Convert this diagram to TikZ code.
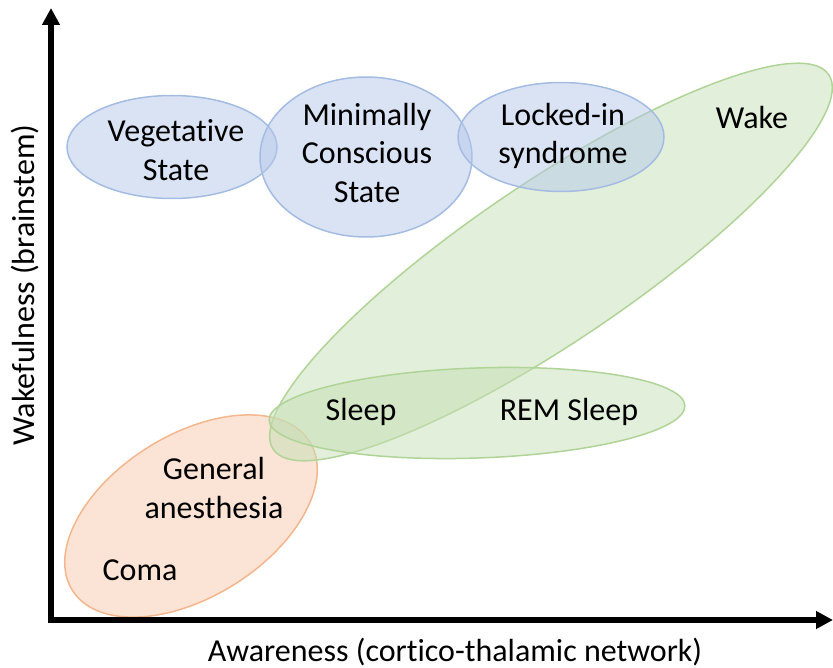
\documentclass[tikz,border=0pt]{standalone}
\usepackage{fontspec}
\setmainfont{Carlito}[Ligatures=NoCommon]
\usetikzlibrary{positioning,arrows.meta,shapes.geometric}
\definecolor{zoneblue}{RGB}{180,199,233}
\definecolor{zoneblueline}{RGB}{165,188,226}
\definecolor{zonegreen}{RGB}{197,223,181}
\definecolor{zonegreenline}{RGB}{176,212,152}
\definecolor{zoneorange}{RGB}{247,201,171}
\definecolor{zoneorangeline}{RGB}{244,182,140}

\begin{document}
\begin{tikzpicture}[
    x=1pt, y=-1pt,
    region/.style={ellipse, inner sep=0pt, line width=1.5pt, fill opacity=0.5},
    bluezone/.style={region, draw=zoneblueline, fill=zoneblue},
    greenzone/.style={region, draw=zonegreenline, fill=zonegreen},
    orangezone/.style={region, draw=zoneorangeline, fill=zoneorange},
    statetext/.style={align=center, inner sep=0pt, font=\fontsize{32}{38.5}\selectfont},
    axis/.style={line width=5.5pt, {Triangle[length=17pt,width=17pt]}-{Triangle[length=17pt,width=17pt]}}
]
\useasboundingbox (0,0) rectangle (833,668);

\node[orangezone, minimum width=280pt, minimum height=162pt, rotate=32] (anesth) at (191,516) {};
\node[greenzone, minimum width=670pt, minimum height=160pt, rotate=34] (wakezone) at (551,262) {};
\node[greenzone, minimum width=416pt, minimum height=90pt, rotate=2] (sleepzone) at (477,413) {};
\node[bluezone, minimum width=210pt, minimum height=103pt] (veg) at (172,147) {};
\node[bluezone, minimum width=212pt, minimum height=160pt] (mcs) at (366,157) {};
\node[bluezone, minimum width=206pt, minimum height=109pt] (lis) at (561,137) {};

\node[statetext] (vegtext) at (176,150) {Vegetative\\State};
\node[statetext] (mcstext) at (367,153) {Minimally\\Conscious\\State};
\node[statetext] (listext) at (563,136) {Locked-in\\syndrome};
\node[statetext] (wake) at (752,118) {Wake};
\node[statetext] (sleep) at (361,412) {Sleep};
\node[statetext] (rem) at (569,412) {REM Sleep};
\node[statetext] (general) at (214,488) {General\\anesthesia};
\node[statetext] (coma) at (140,570) {Coma};

\coordinate (origin) at (51,620);
\coordinate (ytop) at (51,8);
\coordinate (xend) at (833,620);
\draw[axis] (ytop) -- (origin) -- (xend);

\node[statetext] (xlabel) at (455,652) {Awareness (cortico-thalamic network)};
\node[statetext, rotate=90] (ylabel) at (25,285) {Wakefulness (brainstem)};
\end{tikzpicture}
\end{document}
